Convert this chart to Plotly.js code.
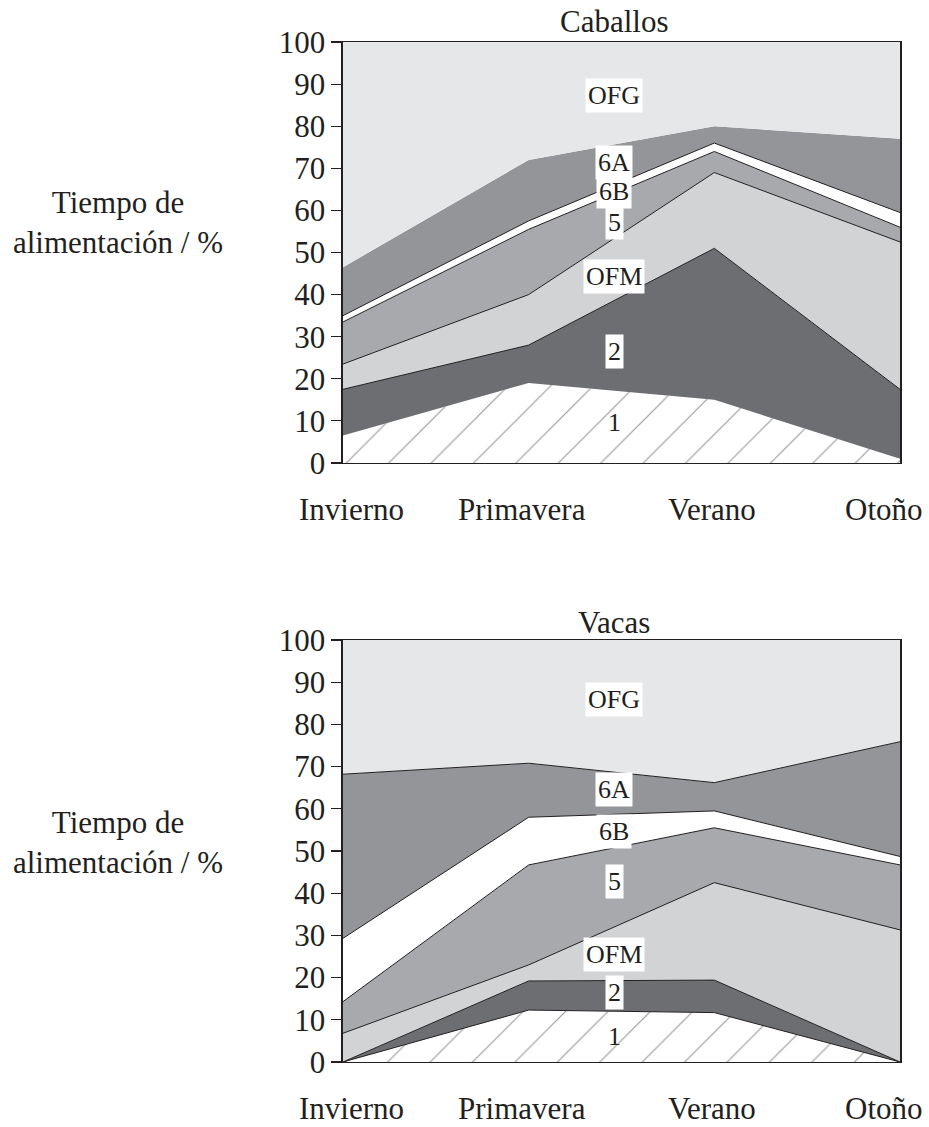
<!DOCTYPE html>
<html>
<head>
<meta charset="utf-8">
<script src="https://cdn.plot.ly/plotly-3.0.1.min.js"></script>
<style>html,body{margin:0;padding:0;background:#fff;}#chart{width:929px;height:1127px;}</style>
</head>
<body>
<div id="chart"></div>
<script>
// ---- data ----
const seasons = ['Invierno', 'Primavera', 'Verano', 'Otoño'];
const layerNames = ['1', '2', 'OFM', '5', '6B', '6A', 'OFG'];

// Caballos (share of feeding time per layer, %)
const cab1   = [6.5, 19, 15, 1];
const cab2   = [11, 9, 36, 16.5];
const cabOFM = [6, 12, 18, 35];
const cab5   = [10, 15.5, 5, 3.5];
const cab6B  = [1.5, 2, 2, 3.5];
const cab6A  = [11.5, 14.5, 4, 17.5];
const cabOFG = [53.5, 28, 20, 23];

// Vacas
const vac1   = [0, 12.3, 11.7, 0];
const vac2   = [0, 6.9, 7.7, 0];
const vacOFM = [6.8, 3.8, 23.1, 31.3];
const vac5   = [7.5, 23.7, 13, 15.4];
const vac6B  = [15, 11.3, 4, 2];
const vac6A  = [38.9, 12.8, 6.7, 27.2];
const vacOFG = [31.8, 29.2, 33.8, 24.1];

const chartTitles = ['Caballos', 'Vacas'];
const yTitle = 'Tiempo de<br>alimentación / %';

// ---- styles ----
const fills = ['#ffffff', '#6d6e71', '#d1d3d4', '#a7a9ac', '#ffffff', '#939598', '#e6e7e8'];
const lineWCab = [0, 1, 1, 1, 1, 0, 0];
const lineWVac = [1, 1, 1, 1, 1, 1, 0];
const labelYCab = [9.5, 26.5, 44.4, 57.1, 64.5, 71.4, 87.4];
const labelYVac = [6, 16.4, 25.4, 42.8, 54.7, 64.5, 86];
const labelX = 1.46;
const seasonShift = [9, -7, -2, -16];
const ink = '#231f20';
const FONT = 'Liberation Serif';

function traces(series, lineW, xa, ya) {
  return series.map((vals, i) => {
    const t = {
      type: 'scatter', mode: 'lines', x: seasons, y: vals,
      name: layerNames[i], stackgroup: 'g' + ya,
      xaxis: xa, yaxis: ya,
      line: {color: ink, width: lineW[i], shape: 'linear'},
      fillcolor: fills[i], hoverinfo: 'skip'
    };
    if (i === 0) {
      t.fillpattern = {shape: '/', bgcolor: '#ffffff', fgcolor: '#9c9c9c', size: 30, solidity: 0.04};
    }
    return t;
  });
}

const data = [
  ...traces([cab1, cab2, cabOFM, cab5, cab6B, cab6A, cabOFG], lineWCab, 'x', 'y'),
  ...traces([vac1, vac2, vacOFM, vac5, vac6B, vac6A, vacOFG], lineWVac, 'x2', 'y2')
];

const annotations = [];
function addLabels(labelY, xr, yr) {
  layerNames.forEach((nm, i) => {
    annotations.push({
      xref: xr, yref: yr, x: labelX, y: labelY[i], text: nm, showarrow: false,
      font: {family: FONT, size: 26, color: ink},
      bgcolor: i === 0 ? 'rgba(0,0,0,0)' : '#ffffff', borderpad: 2
    });
  });
  seasons.forEach((s, i) => {
    annotations.push({
      xref: xr, yref: yr, x: i, y: 0, text: s, showarrow: false,
      xanchor: 'center', yanchor: 'top', yshift: -27, xshift: seasonShift[i],
      font: {family: FONT, size: 31, color: ink}
    });
  });
}
addLabels(labelYCab, 'x', 'y');
addLabels(labelYVac, 'x2', 'y2');

[[0.9805, 0.803], [0.448, 0.252]].forEach((p, k) => {
  annotations.push({
    xref: 'paper', yref: 'paper', x: 0.661, y: p[0], text: chartTitles[k], showarrow: false,
    xanchor: 'center', yanchor: 'middle', font: {family: FONT, size: 31, color: ink}
  });
  annotations.push({
    xref: 'paper', yref: 'paper', x: 0.127, y: p[1], text: yTitle, showarrow: false,
    xanchor: 'center', yanchor: 'middle', align: 'center',
    font: {family: FONT, size: 31, color: ink}
  });
});

const xBase = {
  domain: [0.3692, 0.9688], type: 'category', range: [0, 3],
  showline: true, mirror: true, linecolor: ink, linewidth: 1.5,
  showgrid: false, zeroline: false, showticklabels: false, ticks: ''
};
const yBase = {
  range: [0, 100], dtick: 10, tick0: 0,
  showline: true, mirror: true, linecolor: ink, linewidth: 1.5,
  ticks: 'outside', ticklen: 10, tickwidth: 1.2, tickcolor: ink,
  showgrid: false, zeroline: false,
  tickfont: {family: FONT, size: 31, color: ink}
};

const layout = {
  width: 929, height: 1127,
  margin: {l: 0, r: 0, t: 0, b: 0},
  paper_bgcolor: '#ffffff', plot_bgcolor: '#ffffff',
  showlegend: false,
  font: {family: FONT, color: ink},
  xaxis: Object.assign({}, xBase, {anchor: 'y'}),
  yaxis: Object.assign({}, yBase, {anchor: 'x', domain: [0.5892, 0.9627]}),
  xaxis2: Object.assign({}, xBase, {anchor: 'y2'}),
  yaxis2: Object.assign({}, yBase, {anchor: 'x2', domain: [0.0577, 0.4321]}),
  annotations: annotations
};

Plotly.newPlot('chart', data, layout, {staticPlot: true, displayModeBar: false});
</script>
</body>
</html>
